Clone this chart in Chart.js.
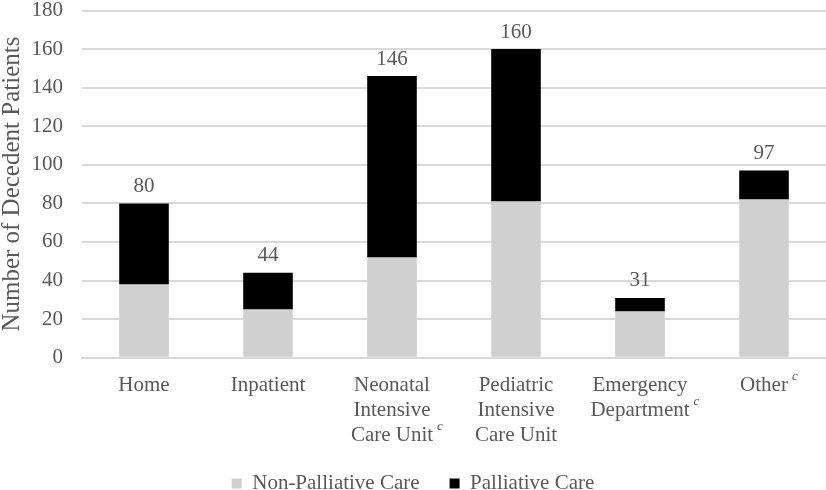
<!DOCTYPE html>
<html lang="en">
<head>
    <meta charset="UTF-8">
    <title>Decedent Patients by Location of Death</title>
    <style>
        body {
            margin: 0;
            padding: 0;
            background-color: #ffffff;
        }

        .chart-box {
            width: 826px;
            height: 490px;
        }
    </style>
</head>
<body>
    <div class="chart-box">
        <canvas id="deathChart" width="826" height="490"></canvas>
    </div>

    <script src="https://cdn.jsdelivr.net/npm/chart.js"></script>
    <script>
        // Data
        const locations = ['Home', 'Inpatient', 'Neonatal Intensive Care Unit', 'Pediatric Intensive Care Unit', 'Emergency Department', 'Other'];
        // label lines under each bar; '^c' marks a superscript c at the end of the line
        const labelLines = [
            ['Home'],
            ['Inpatient'],
            ['Neonatal', 'Intensive', 'Care Unit^c'],
            ['Pediatric', 'Intensive', 'Care Unit'],
            ['Emergency', 'Department^c'],
            ['Other^c']
        ];
        const nonPalliative = [38, 25, 52, 81, 24, 82];
        const palliative = [42, 19, 94, 79, 7, 15];
        const yTicks = [0, 20, 40, 60, 80, 100, 120, 140, 160, 180];

        const serif = "'Liberation Serif', 'Times New Roman', serif";
        const textGray = '#595959';

        // Draws the category labels (with superscripts) and the totals above bars
        const labelPlugin = {
            id: 'labelPlugin',
            afterDraw: function(chart) {
                const ctx = chart.ctx;
                const xScale = chart.scales.x;
                const yScale = chart.scales.y;
                ctx.save();
                ctx.fillStyle = textGray;
                ctx.textBaseline = 'middle';

                labelLines.forEach(function(lines, i) {
                    const x = xScale.getPixelForTick(i);
                    lines.forEach(function(line, k) {
                        const y = xScale.top + 28 + k * 25;
                        let text = line;
                        let sup = false;
                        if (text.endsWith('^c')) {
                            text = text.slice(0, -2);
                            sup = true;
                        }
                        ctx.font = '21px ' + serif;
                        ctx.textAlign = 'center';
                        ctx.fillText(text, x, y);
                        if (sup) {
                            const w = ctx.measureText(text).width;
                            ctx.font = 'italic 13px ' + serif;
                            ctx.textAlign = 'left';
                            ctx.fillText('c', x + w / 2 + 4, y - 9);
                        }
                    });
                });

                // totals above each stack
                ctx.font = '21px ' + serif;
                ctx.textAlign = 'center';
                locations.forEach(function(loc, i) {
                    const total = nonPalliative[i] + palliative[i];
                    const x = xScale.getPixelForTick(i);
                    const y = yScale.getPixelForValue(total) - 17;
                    ctx.fillText(String(total), x, y);
                });
                ctx.restore();
            }
        };

        const ctx = document.getElementById('deathChart').getContext('2d');
        const deathChart = new Chart(ctx, {
            type: 'bar',
            data: {
                labels: locations,
                datasets: [{
                    label: 'Non-Palliative Care',
                    data: nonPalliative,
                    backgroundColor: '#d0d0d0',
                    borderWidth: 0
                }, {
                    label: 'Palliative Care',
                    data: palliative,
                    backgroundColor: '#000000',
                    borderWidth: 0
                }]
            },
            options: {
                responsive: false,
                animation: false,
                layout: {
                    padding: { top: 0, right: 0, left: 0, bottom: -14 }
                },
                datasets: {
                    bar: {
                        categoryPercentage: 1.0,
                        barPercentage: 0.4
                    }
                },
                plugins: {
                    tooltip: { enabled: false },
                    legend: {
                        position: 'bottom',
                        labels: {
                            boxWidth: 10,
                            boxHeight: 10,
                            padding: 30,
                            color: textGray,
                            font: { family: serif, size: 21 }
                        }
                    }
                },
                scales: {
                    x: {
                        stacked: true,
                        grid: { display: false },
                        border: { display: true, color: '#d9d9d9', width: 2 },
                        ticks: {
                            // transparent: the plugin draws the labels, this only keeps the room
                            color: 'rgba(0,0,0,0)',
                            font: { family: serif, size: 21, lineHeight: 1.1 },
                            maxRotation: 0,
                            autoSkip: false,
                            padding: 4,
                            callback: function(value, index) {
                                return ['', '', ''];
                            }
                        }
                    },
                    y: {
                        stacked: true,
                        min: 0,
                        max: 180,
                        afterBuildTicks: function(axis) {
                            axis.ticks = yTicks.map(function(v) { return { value: v }; });
                        },
                        afterFit: function(axis) {
                            axis.width = 82;
                        },
                        grid: {
                            color: '#d9d9d9',
                            lineWidth: 2,
                            drawTicks: true,
                            tickLength: 19,
                            tickColor: 'rgba(0,0,0,0)'
                        },
                        border: { display: false },
                        ticks: {
                            color: textGray,
                            padding: 0,
                            font: { family: serif, size: 21, lineHeight: 1.0 }
                        },
                        title: {
                            display: true,
                            text: 'Number of Decedent Patients',
                            color: textGray,
                            padding: { top: -3, bottom: 2 },
                            font: { family: serif, size: 25 }
                        }
                    }
                }
            },
            plugins: [labelPlugin]
        });
    </script>
</body>
</html>
